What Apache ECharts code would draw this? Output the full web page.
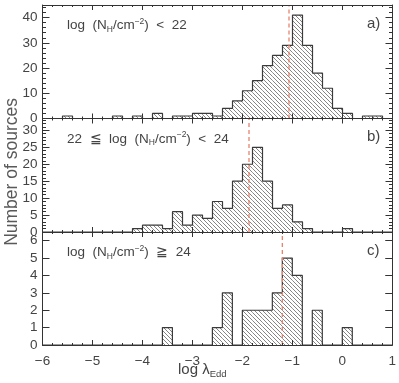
<!DOCTYPE html>
<html>
<head>
<meta charset="utf-8">
<script src="https://cdn.jsdelivr.net/npm/echarts@6/dist/echarts.min.js"></script>
<style>html,body{margin:0;padding:0;background:#fff}#c{width:399px;height:383px}</style>
</head>
<body>
<div id="c"></div>
<script>
// ---- data ----
var binStart = -6.0;
var binWidth = 0.2;
// counts per bin from -6.0 to 1.0 (35 bins)
var countsA = [0,0,1,0,0,0,0,1,0,1,0,2,0,1,1,2,2,1,4,7,11,15,21,25,29,41,29,18,12,4,2,0,1,1,0];
var countsB = [0,0,0,0,0,0,0,0,0,1,2,2,1,6,2,5,4,9,7,15,20,25,15,7,8,3,1,0,0,0,1,0,0,0,0];
var countsC = [0,0,0,0,0,0,0,0,0,0,0,0,1,0,0,0,0,1,3,0,2,2,2,3,5,4,0,2,0,0,1,0,0,0,0];
var medians = [-1.07, -1.87, -1.2];
var xTicks = [-6, -5, -4, -3, -2, -1, 0, 1];
var yMax = [45, 33.5, 6.5];
var yMajor = [10, 5, 1];
var yMinor = [2, 1, null];
var panelLabels = ['a)', 'b)', 'c)'];
var panelConds = [
  '{t|log  (N}{sub|H}{t|/cm}{sup|\u22122}{t|)  <  22}',
  '{t|22  \u2266  log  (N}{sub|H}{t|/cm}{sup|\u22122}{t|)  <  24}',
  '{t|log  (N}{sub|H}{t|/cm}{sup|\u22122}{t|)  \u2267  24}'
];

// ---- hatch pattern ----
function makeHatch() {
  var s = 4;
  var cv = document.createElement('canvas');
  cv.width = s; cv.height = s;
  var ctx = cv.getContext('2d');
  ctx.fillStyle = '#ffffff';
  ctx.fillRect(0, 0, s, s);
  ctx.strokeStyle = '#777777';
  ctx.lineWidth = 0.9;
  ctx.beginPath();
  ctx.moveTo(-1, -1); ctx.lineTo(s + 1, s + 1);
  ctx.moveTo(-1, s - 1); ctx.lineTo(1, s + 1);
  ctx.moveTo(s - 1, -1); ctx.lineTo(s + 1, 1);
  ctx.stroke();
  return cv;
}
var hatch = {image: makeHatch(), repeat: 'repeat'};

var chart = echarts.init(document.getElementById('c'), null, {renderer: 'canvas'});
var FONT = 'Liberation Sans';
var AX = '#333';
var TXT = '#444';

var gridTops = [5, 118.5, 232];
var gridH = [113.5, 113.5, 113];
var grids = [], xAxes = [], yAxes = [], series = [], graphics = [];

function fmtX(v) { return v < 0 ? '\u2212' + Math.abs(v) : String(v); }

var allCounts = [countsA, countsB, countsC];
for (var p = 0; p < 3; p++) {
  grids.push({left: 42.5, right: 6.5, top: gridTops[p], height: gridH[p], containLabel: false});
  var xi = xAxes.length;
  var last = (p === 2);
  xAxes.push({
    type: 'value', gridIndex: p, position: 'bottom', min: -6, max: 1, interval: 1,
    axisLine: {show: true, onZero: false, lineStyle: {color: AX, width: 1}},
    axisTick: {show: true, inside: true, length: 5, lineStyle: {color: AX}},
    minorTick: {show: true, splitNumber: 5, length: 2, lineStyle: {color: AX}},
    splitLine: {show: false},
    axisLabel: {show: last, color: TXT, fontFamily: FONT, fontSize: 13.5, margin: 9, formatter: fmtX},
    name: '', z: 5
  });
  xAxes.push({
    type: 'value', gridIndex: p, position: 'top', min: -6, max: 1, interval: 1,
    axisLine: {show: true, onZero: false, lineStyle: {color: AX, width: 1}},
    axisTick: {show: true, inside: true, length: 5, lineStyle: {color: AX}},
    minorTick: {show: true, splitNumber: 5, length: 2, lineStyle: {color: AX}},
    splitLine: {show: false}, axisLabel: {show: false}, z: 5
  });
  var yi = yAxes.length;
  ['left', 'right'].forEach(function (pos) {
    yAxes.push({
      type: 'value', gridIndex: p, position: pos, min: 0, max: yMax[p], interval: yMajor[p],
      axisLine: {show: true, onZero: false, lineStyle: {color: AX, width: 1}},
      axisTick: {show: true, inside: true, length: 7, lineStyle: {color: AX}},
      splitLine: {show: false},
      axisLabel: {show: pos === 'left', color: TXT, fontFamily: FONT, fontSize: 13.5, margin: 5, showMaxLabel: false},
      z: 5
    });
    if (yMinor[p]) {
      yAxes.push({
        type: 'value', gridIndex: p, position: pos, min: 0, max: yMax[p], interval: yMinor[p],
        axisLine: {show: false, onZero: false},
        axisTick: {show: true, inside: true, length: 3.5, lineStyle: {color: AX}},
        splitLine: {show: false}, axisLabel: {show: false}, z: 5
      });
    }
  });

  var counts = allCounts[p];
  var bars = [];
  var step = [];
  for (var i = 0; i < counts.length; i++) {
    var s0 = +(binStart + i * binWidth).toFixed(4);
    var s1 = +(binStart + (i + 1) * binWidth).toFixed(4);
    bars.push([s0, s1, counts[i]]);
    step.push([s0, counts[i]]);
  }
  step.push([+(binStart + counts.length * binWidth).toFixed(4), 0]);

  series.push({
    type: 'custom', xAxisIndex: xi, yAxisIndex: yi, data: bars, silent: true,
    renderItem: function (params, api) {
      var v = api.value(2);
      if (!v) return null;
      var a = api.coord([api.value(0), v]);
      var b = api.coord([api.value(1), 0]);
      return {type: 'rect', shape: {x: a[0], y: a[1], width: b[0] - a[0], height: b[1] - a[1]},
              style: {fill: hatch, stroke: null}};
    },
    encode: {x: [0, 1], y: 2}, z: 2
  });
  series.push({
    type: 'line', xAxisIndex: xi, yAxisIndex: yi, data: step, step: 'end',
    showSymbol: false, symbol: 'none', silent: true,
    lineStyle: {color: '#3a3a3a', width: 1.2}, z: 3
  });
  series.push({
    type: 'line', xAxisIndex: xi, yAxisIndex: yi,
    data: [[medians[p], 0], [medians[p], yMax[p]]],
    showSymbol: false, symbol: 'none', silent: true,
    lineStyle: {color: '#e9836d', width: 1.3, type: [4, 3]}, z: 4
  });

  graphics.push({
    type: 'text', left: 67, top: gridTops[p] + 12,
    style: {
      text: panelConds[p], fill: TXT, font: '13.5px ' + FONT,
      rich: {
        t: {fontSize: 13.5, fontFamily: FONT, fill: TXT, lineHeight: 17, verticalAlign: 'middle'},
        sub: {fontSize: 8.5, fontFamily: FONT, fill: TXT, lineHeight: 17, verticalAlign: 'bottom'},
        sup: {fontSize: 8.5, fontFamily: FONT, fill: TXT, lineHeight: 17, verticalAlign: 'top'}
      }
    }
  });
  graphics.push({
    type: 'text', left: 367, top: gridTops[p] + 11,
    style: {text: panelLabels[p], fill: TXT, font: '15px ' + FONT}
  });
}

graphics.push({
  type: 'text', left: 3, top: 98, rotation: Math.PI / 2,
  style: {text: 'Number of sources', fill: '#5a5a5a', font: '17.5px ' + FONT}
});
graphics.push({
  type: 'text', left: 178, top: 362,
  style: {
    text: '{t|log \u03bb}{sub|Edd}',
    rich: {
      t: {fontSize: 15, fontFamily: FONT, fill: TXT, lineHeight: 19, verticalAlign: 'middle'},
      sub: {fontSize: 9.5, fontFamily: FONT, fill: TXT, lineHeight: 19, verticalAlign: 'bottom'}
    }
  }
});

chart.setOption({
  backgroundColor: '#ffffff',
  animation: false,
  grid: grids,
  xAxis: xAxes,
  yAxis: yAxes,
  series: series,
  graphic: graphics
});
</script>
</body>
</html>
